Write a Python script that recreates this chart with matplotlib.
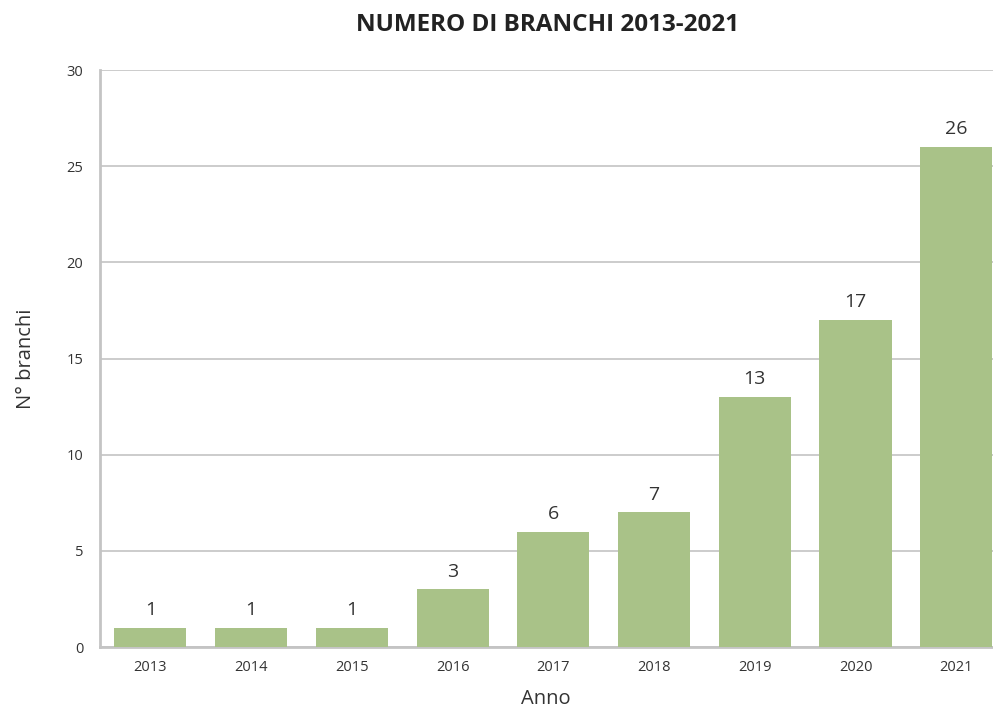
import matplotlib.pyplot as plt

anni = ['2013', '2014', '2015', '2016', '2017', '2018', '2019', '2020', '2021']
branchi = [1, 1, 1, 3, 6, 7, 13, 17, 26]

plt.rcParams['font.family'] = ['Open Sans', 'DejaVu Sans']

fig = plt.figure(figsize=(9.93, 7.11), dpi=100)
# the plot area runs past the right edge of the figure, so the last bar is cut off flush
ax = fig.add_axes([0.1007, 0.09, 0.913, 0.8115])

x = range(len(anni))
bars = ax.bar(x, branchi, width=0.715, color='#a9c288', zorder=3)
for b, v in zip(bars, branchi):
    ax.text(b.get_x() + b.get_width() / 2, v + 0.45, str(v), ha='center', va='bottom',
            fontsize=14, color='#333333')

ax.set_xlim(-0.5, len(anni) - 0.5)
ax.set_ylim(0, 30)
ax.set_yticks(range(0, 31, 5))
ax.set_xticks(list(x))
ax.set_xticklabels(anni)
ax.tick_params(axis='both', length=0, labelsize=10.5, colors='#333333')
ax.tick_params(axis='y', pad=12)
ax.tick_params(axis='x', pad=9)

ax.grid(axis='y', color='#c8c8c8', linewidth=1.3, zorder=0)
for s in ['top', 'right']:
    ax.spines[s].set_visible(False)
for s in ['left', 'bottom']:
    ax.spines[s].set_color('#c4c4c4')
    ax.spines[s].set_linewidth(2)

ax.set_xlabel('Anno', fontsize=14.5, color='#333333')
ax.xaxis.set_label_coords(0.492, -0.072)
ax.set_ylabel('N° branchi', fontsize=14.5, color='#333333', labelpad=22)
fig.text(0.551, 0.965, 'NUMERO DI BRANCHI 2013-2021', ha='center', va='center',
         fontsize=17.5, fontweight='bold', color='#222222')

fig.savefig('out.png', dpi=100, facecolor='white')
